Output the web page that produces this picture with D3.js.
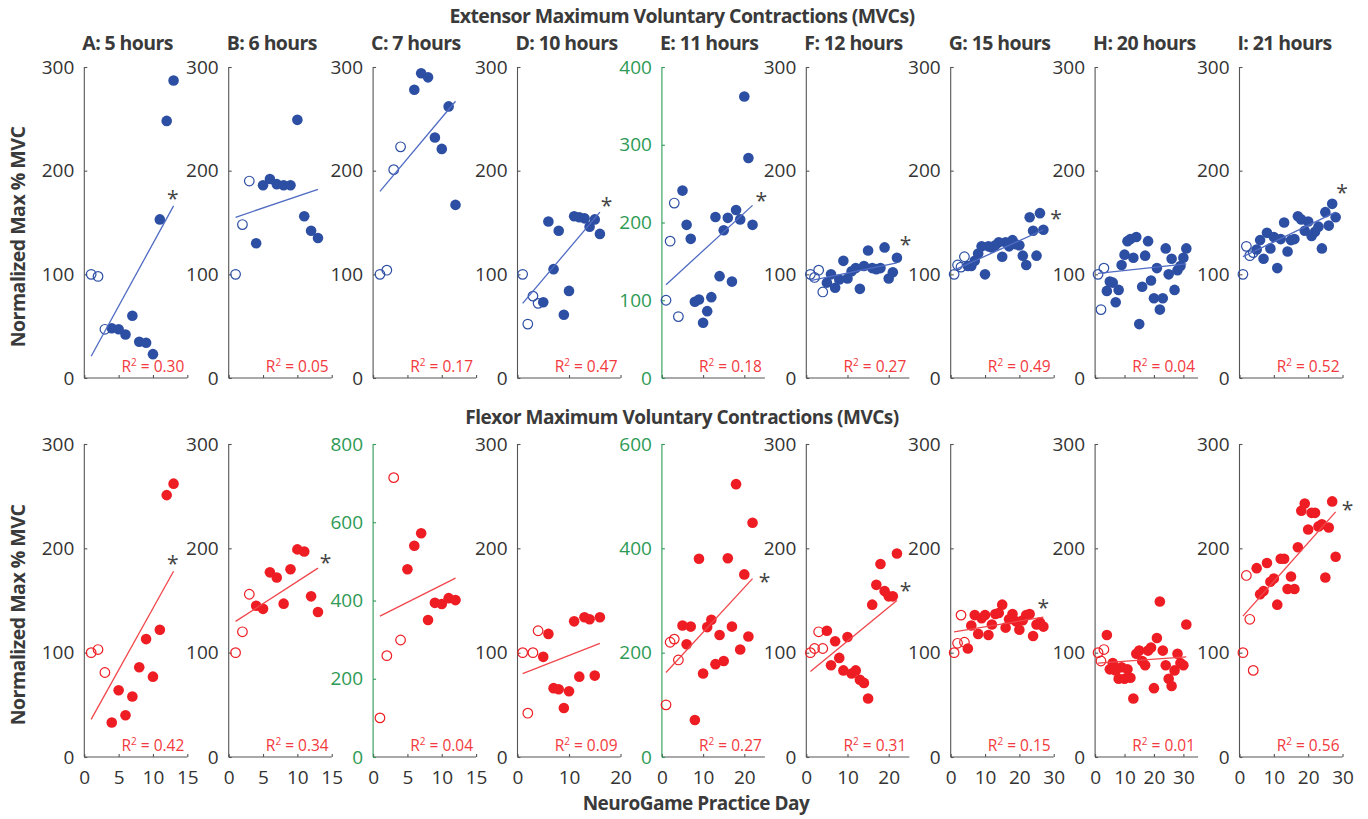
<!DOCTYPE html>
<html>
<head>
<meta charset="UTF-8">
<script src="https://cdnjs.cloudflare.com/ajax/libs/d3/7.8.5/d3.min.js"></script>
<style>
    body { margin: 0; background: #fff; }
    svg text { font-family: "Open Sans", "Noto Sans", sans-serif; }
    .axis path, .axis line { stroke: #555; stroke-width: 1.1; }
    .axis text { font-size: 19px; fill: #333; }
</style>
</head>
<body>
<svg id="chart" width="1368" height="819"></svg>
<script>
    // panel titles and x axes (shared by both rows)
    var panelTitles = ["A: 5 hours", "B: 6 hours", "C: 7 hours", "D: 10 hours", "E: 11 hours",
                       "F: 12 hours", "G: 15 hours", "H: 20 hours", "I: 21 hours"];
    var xMax = [15, 15, 15, 20, 25, 25, 30, 35, 30];
    var xTicks = [[0,5,10,15],[0,5,10,15],[0,5,10,15],[0,10,20],[0,10,20],[0,10,20],[0,10,20,30],[0,10,20,30],[0,10,20,30]];

    // y axes
    var extYTicks = [[0,100,200,300],[0,100,200,300],[0,100,200,300],[0,100,200,300],[0,100,200,300,400],
                     [0,100,200,300],[0,100,200,300],[0,100,200,300],[0,100,200,300]];
    var flxYTicks = [[0,100,200,300],[0,100,200,300],[0,200,400,600,800],[0,100,200,300],[0,200,400,600],
                     [0,100,200,300],[0,100,200,300],[0,100,200,300],[0,100,200,300]];
    var extGreen = [false,false,false,false,true,false,false,false,false];
    var flxGreen = [false,false,true,false,true,false,false,false,false];

    // Extensor MVCs: [day, % of baseline]
    var extA = [[1,100],[2,98],[3,47],[4,48],[5,47],[6,42],[7,60],[8,35],[9,34],[10,23],[11,153],[12,248],[13,287]];
    var extB = [[1,100],[2,148],[3,190],[4,130],[5,186],[6,192],[7,187],[8,186],[9,186],[10,249],[11,156],[12,142],[13,135]];
    var extC = [[1,100],[2,104],[3,201],[4,223],[6,278],[7,294],[8,290],[9,232],[10,221],[11,262],[12,167]];
    var extD = [[1,100],[2,52],[3,79],[4,72],[5,73],[6,151],[7,105],[8,142],[9,61],[10,84],[11,156],[12,155],[13,154],[14,146],[15,153],[16,139]];
    var extE = [[1,100],[2,176],[3,225],[4,79],[5,241],[6,197],[7,179],[8,98],[9,101],[10,71],[11,86],[12,104],[13,207],[14,131],[15,190],[16,206],[17,124],[18,216],[19,204],[20,362],[21,283],[22,197]];
    var extF = [[1,100],[2,97],[3,104],[4,83],[5,92],[6,100],[7,87],[8,95],[9,113],[10,96],[11,103],[12,106],[13,86],[14,108],[15,123],[16,106],[17,105],[18,106],[19,126],[20,96],[21,102],[22,116]];
    var extG = [[1,100],[2,109],[3,107],[4,117],[5,108],[6,108],[7,113],[8,120],[9,127],[10,100],[11,127],[12,126],[13,128],[14,131],[15,117],[16,131],[17,127],[18,133],[19,129],[20,128],[21,118],[22,109],[23,155],[24,142],[25,118],[26,159],[27,143]];
    var extH = [[1,100],[2,66],[3,106],[4,84],[5,93],[6,92],[7,73],[8,85],[9,109],[10,119],[11,132],[12,134],[13,116],[14,136],[15,52],[16,88],[17,118],[18,132],[19,94],[20,77],[21,106],[22,66],[23,77],[24,125],[25,100],[26,115],[27,85],[28,104],[29,108],[30,116],[31,125]];
    var extI = [[1,100],[2,127],[3,118],[4,121],[5,124],[6,133],[7,115],[8,140],[9,125],[10,136],[11,106],[12,134],[13,150],[14,122],[15,133],[16,134],[17,156],[18,153],[19,142],[20,151],[21,137],[22,141],[23,146],[24,125],[25,160],[26,147],[27,168],[28,155]];

    // Flexor MVCs
    var flxA = [[1,100],[2,103],[3,81],[4,33],[5,64],[6,40],[7,58],[8,86],[9,113],[10,77],[11,122],[12,251],[13,262]];
    var flxB = [[1,100],[2,120],[3,156],[4,145],[5,142],[6,177],[7,172],[8,147],[9,180],[10,199],[11,197],[12,154],[13,139]];
    var flxC = [[1,100],[2,259],[3,714],[4,299],[5,480],[6,540],[7,572],[8,350],[9,394],[10,391],[11,406],[12,401]];
    var flxD = [[1,100],[2,42],[3,100],[4,121],[5,96],[6,118],[7,66],[8,65],[9,47],[10,63],[11,130],[12,77],[13,134],[14,132],[15,78],[16,134]];
    var flxE = [[1,100],[2,220],[3,226],[4,186],[5,252],[6,216],[7,250],[8,71],[9,380],[10,160],[11,249],[12,263],[13,178],[14,234],[15,184],[16,381],[17,250],[18,523],[19,206],[20,350],[21,231],[22,449]];
    var flxF = [[1,100],[2,104],[3,120],[4,104],[5,121],[6,88],[7,111],[8,95],[9,83],[10,115],[11,80],[12,83],[13,74],[14,71],[15,56],[16,146],[17,165],[18,185],[19,159],[20,154],[21,154],[22,195]];
    var flxG = [[1,100],[2,109],[3,136],[4,110],[5,104],[6,126],[7,136],[8,118],[9,133],[10,136],[11,117],[12,127],[13,137],[14,138],[15,146],[16,124],[17,132],[18,137],[19,130],[20,122],[21,131],[22,136],[23,137],[24,116],[25,127],[26,129],[27,125]];
    var flxH = [[1,100],[2,92],[3,103],[4,117],[5,84],[6,90],[7,83],[8,75],[9,86],[10,75],[11,84],[12,76],[13,56],[14,99],[15,102],[16,92],[17,88],[18,102],[19,105],[20,66],[21,114],[22,149],[23,102],[24,88],[25,75],[26,68],[27,83],[28,99],[29,90],[30,88],[31,127]];
    var flxI = [[1,100],[2,174],[3,132],[4,83],[5,181],[6,156],[7,159],[8,186],[9,168],[10,171],[11,146],[12,190],[13,190],[14,161],[15,173],[16,161],[17,201],[18,236],[19,243],[20,218],[21,234],[22,234],[23,221],[24,223],[25,172],[26,220],[27,245],[28,192]];

    // number of baseline (open circle) points per panel
    var extOpen = [3, 3, 4, 4, 4, 4, 4, 3, 4];
    var flxOpen = [3, 3, 4, 4, 4, 4, 4, 3, 4];

    // regression lines [x1, y1, x2, y2]
    var extFit = [[1,21,13,166],[1,155,13,182],[1,180,12,267],[1,72,16,160],[1,120,22,222],[1,94,22,111],[1,104,27,143],[1,101,31,110],[1,117,28,160]];
    var flxFit = [[1,36,13,178],[1,130,13,181],[1,360,12,457],[1,80,16,109],[1,162,22,342],[1,82,22,150],[1,120,27,134],[1,90,31,96],[1,135,28,235]];

    var extR2 = ["0.30","0.05","0.17","0.47","0.18","0.27","0.49","0.04","0.52"];
    var flxR2 = ["0.42","0.34","0.04","0.09","0.27","0.31","0.15","0.01","0.56"];

    // significance asterisks (position in data units), null = none
    var extStar = [[12.9,177], null, null, [17.3,170], [24.1,233], [24.1,132], [30.7,157], null, [29.9,182]];
    var flxStar = [[12.9,189], [14.1,190], null, null, [24.9,344], [24.1,163], [27,147], null, [31.5,241]];

    var extData = [extA, extB, extC, extD, extE, extF, extG, extH, extI];
    var flxData = [flxA, flxB, flxC, flxD, flxE, flxF, flxG, flxH, flxI];

    var svg = d3.select("#chart");
    var left0 = 84.3, step = 144.4, panelW = 103;
    var green = "#2e9a55";
    var labelGrey = "#3a3a3a";

    function drawRow(row) {
        row.data.forEach(function(pts, i) {
            var x0 = left0 + i * step;
            var yTicks = row.yTicks[i];
            var x = d3.scaleLinear().domain([0, xMax[i]]).range([x0, x0 + panelW]);
            var y = d3.scaleLinear().domain([0, yTicks[yTicks.length - 1]]).range([row.bottom, row.top]);
            var g = svg.append("g");

            // x axis
            var xa = g.append("g").attr("class", "axis")
                .attr("transform", "translate(0," + row.bottom + ")")
                .call(d3.axisBottom(x).tickValues(xTicks[i]).tickSize(-3).tickSizeOuter(0).tickPadding(14)
                    .tickFormat(row.xLabels ? d3.format("d") : ""));

            // y axis
            var ya = g.append("g").attr("class", "axis")
                .attr("transform", "translate(" + x0 + ",0)")
                .call(d3.axisLeft(y).tickValues(yTicks).tickSize(-3).tickSizeOuter(0).tickPadding(10));
            ya.select(".domain").attr("d", "M0," + row.bottom + "V" + row.top);
            if (row.green[i]) {
                ya.selectAll("path, line").style("stroke", green);
                ya.selectAll("text").style("fill", green);
            }
            xa.select(".domain").attr("d", "M" + x0 + ",0H" + (x0 + panelW));

            if (row.titles) {
                g.append("text").attr("x", x0 - 2).attr("y", row.top - 17)
                    .style("font-size", "19.5px").style("font-weight", 700).style("fill", labelGrey)
                    .style("letter-spacing", "-0.6px")
                    .text(panelTitles[i]);
            }

            var nOpen = row.open[i];
            g.selectAll("circle.filled").data(pts.slice(nOpen)).enter().append("circle")
                .attr("class", "filled")
                .attr("cx", function(d) { return x(d[0]); })
                .attr("cy", function(d) { return y(d[1]); })
                .attr("r", 5.3)
                .style("fill", row.color);
            g.selectAll("circle.open").data(pts.slice(0, nOpen)).enter().append("circle")
                .attr("class", "open")
                .attr("cx", function(d) { return x(d[0]); })
                .attr("cy", function(d) { return y(d[1]); })
                .attr("r", 4.8)
                .style("fill", "none").style("stroke", row.color).style("stroke-width", 1.2);

            var f = row.fit[i];
            g.append("line")
                .attr("x1", x(f[0])).attr("y1", y(f[1]))
                .attr("x2", x(f[2])).attr("y2", y(f[3]))
                .style("stroke", row.lineColor).style("stroke-width", 1.3);

            var r2 = g.append("text").attr("x", x0 + panelW - 3).attr("y", row.bottom - 6)
                .attr("text-anchor", "end").style("font-size", "15.5px").style("fill", "#f23a40");
            r2.append("tspan").text("R");
            r2.append("tspan").attr("dy", -6).style("font-size", "10px").text("2");
            r2.append("tspan").attr("dy", 6).text(" = " + row.r2[i]);

            var s = row.star[i];
            if (s) {
                g.append("text").attr("x", x(s[0])).attr("y", y(s[1]) + 11)
                    .attr("text-anchor", "middle").style("font-size", "21px").style("fill", "#444")
                    .text("*");
            }
        });
    }

    drawRow({data: extData, top: 67, bottom: 378, yTicks: extYTicks, green: extGreen, open: extOpen,
             fit: extFit, r2: extR2, star: extStar, color: "#2d4fa3", lineColor: "#4f6bc2",
             titles: true, xLabels: false});
    drawRow({data: flxData, top: 444, bottom: 757, yTicks: flxYTicks, green: flxGreen, open: flxOpen,
             fit: flxFit, r2: flxR2, star: flxStar, color: "#ee1d23", lineColor: "#f0474c",
             titles: false, xLabels: true});

    // row titles and axis labels
    svg.append("text").attr("x", 682).attr("y", 23).attr("text-anchor", "middle")
        .style("font-size", "19.5px").style("font-weight", 700).style("fill", labelGrey)
        .style("letter-spacing", "-0.6px")
        .text("Extensor Maximum Voluntary Contractions (MVCs)");
    svg.append("text").attr("x", 682).attr("y", 424).attr("text-anchor", "middle")
        .style("font-size", "19px").style("font-weight", 700).style("fill", labelGrey)
        .style("letter-spacing", "-0.5px")
        .text("Flexor Maximum Voluntary Contractions (MVCs)");
    [237, 615].forEach(function(cy) {
        svg.append("text").attr("transform", "translate(25," + cy + ") rotate(-90)")
            .attr("text-anchor", "middle")
            .style("font-size", "19.5px").style("font-weight", 700).style("fill", labelGrey)
            .style("letter-spacing", "-0.5px")
            .text("Normalized Max % MVC");
    });
    svg.append("text").attr("x", 696).attr("y", 810).attr("text-anchor", "middle")
        .style("font-size", "19px").style("font-weight", 700).style("fill", labelGrey)
        .style("letter-spacing", "-0.5px")
        .text("NeuroGame Practice Day");
</script>
</body>
</html>
